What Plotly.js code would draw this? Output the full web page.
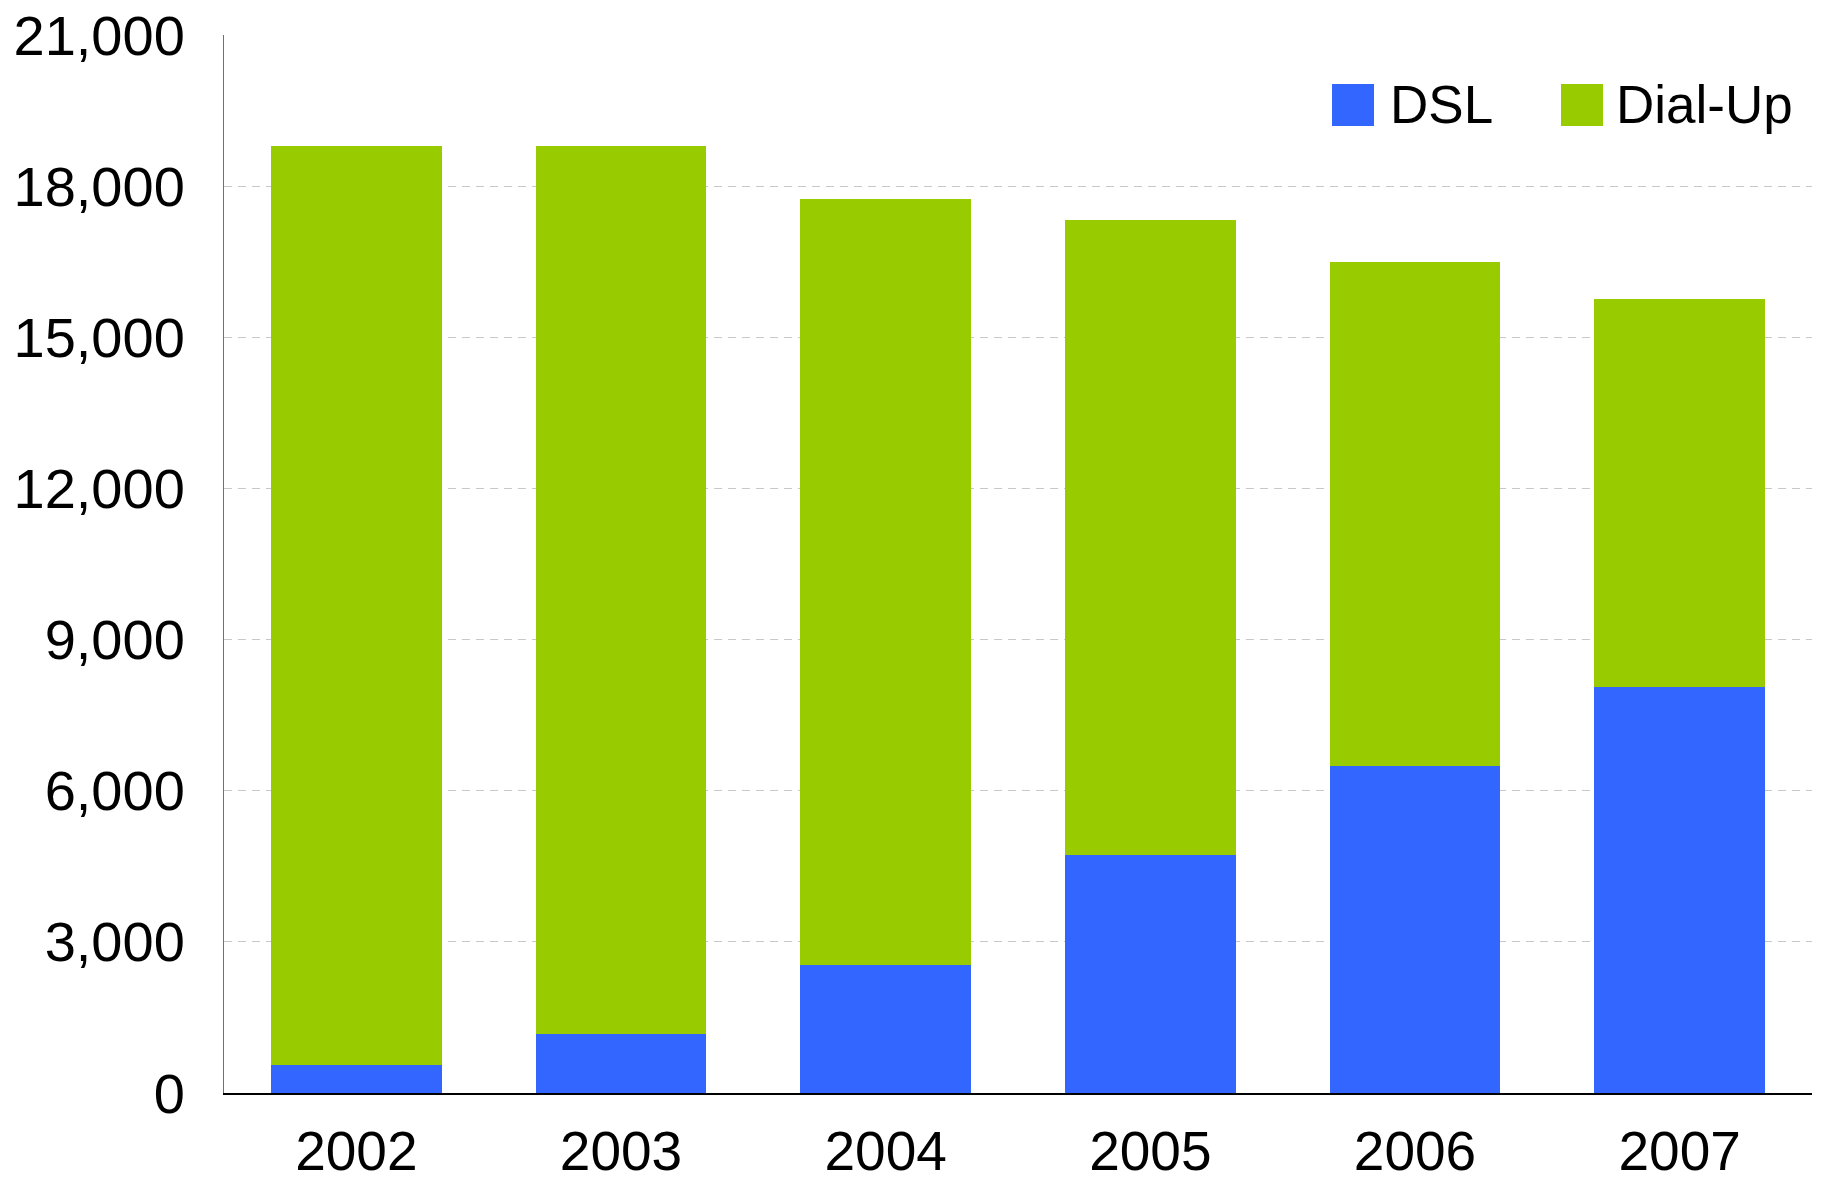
<!DOCTYPE html>
<html>
<head>
<meta charset="utf-8">
<script src="https://cdn.plot.ly/plotly-3.0.1.min.js"></script>
<style>html,body{margin:0;padding:0;background:#fff;}#chart{width:1823px;height:1185px;}</style>
</head>
<body>
<div id="chart"></div>
<script>
const years = ['2002', '2003', '2004', '2005', '2006', '2007'];
const seriesNames = ['DSL', 'Dial-Up'];
const dslValues = [560, 1180, 2550, 4725, 6500, 8060];
const totalValues = [18790, 18790, 17735, 17325, 16490, 15760];
const dialUpValues = totalValues.map((t, i) => t - dslValues[i]);
const yTickValues = [0, 3000, 6000, 9000, 12000, 15000, 18000, 21000];
const colors = ['#3366FF', '#99CC00'];

const FONT = 'Liberation Sans, Arial, sans-serif';

const traces = [
  {type: 'bar', name: seriesNames[0], x: years, y: dslValues,
   marker: {color: colors[0], line: {width: 0}}, showlegend: false, hoverinfo: 'x+y+name'},
  {type: 'bar', name: seriesNames[1], x: years, y: dialUpValues,
   marker: {color: colors[1], line: {width: 0}}, showlegend: false, hoverinfo: 'x+y+name'}
];

const layout = {
  width: 1823, height: 1185,
  margin: {l: 224, r: 11, t: 35, b: 92, pad: 0},
  paper_bgcolor: '#ffffff', plot_bgcolor: '#ffffff',
  barmode: 'stack', bargap: 0.354,
  font: {family: FONT, size: 56, color: '#000'},
  xaxis: {
    type: 'category', showgrid: false, zeroline: false,
    showline: true, linecolor: '#000', linewidth: 2,
    ticks: '', ticklabelstandoff: 9,
    tickfont: {family: FONT, size: 55, color: '#000'}
  },
  yaxis: {
    range: [0, 21000], tickvals: yTickValues, tickformat: ',d',
    showgrid: true, gridcolor: '#c8c8c8', gridwidth: 1, griddash: '8px,6px',
    zeroline: false, showline: true, linecolor: '#707070', linewidth: 1,
    ticks: '', ticklabelstandoff: 27,
    tickfont: {family: FONT, size: 56, color: '#000'}
  },
  shapes: [
    {type: 'rect', xref: 'paper', yref: 'paper',
     x0: (1332 - 224) / 1588, x1: (1374 - 224) / 1588,
     y0: (1093 - 126) / 1058, y1: (1093 - 84) / 1058,
     fillcolor: colors[0], line: {width: 0}},
    {type: 'rect', xref: 'paper', yref: 'paper',
     x0: (1561 - 224) / 1588, x1: (1603 - 224) / 1588,
     y0: (1093 - 126) / 1058, y1: (1093 - 84) / 1058,
     fillcolor: colors[1], line: {width: 0}}
  ],
  annotations: [
    {xref: 'paper', yref: 'paper', x: (1388 - 224) / 1588, y: (1093 - 105) / 1058,
     xanchor: 'left', yanchor: 'middle', showarrow: false, text: seriesNames[0],
     font: {family: FONT, size: 53, color: '#000'}},
    {xref: 'paper', yref: 'paper', x: (1614 - 224) / 1588, y: (1093 - 105) / 1058,
     xanchor: 'left', yanchor: 'middle', showarrow: false, text: seriesNames[1],
     font: {family: FONT, size: 53, color: '#000'}}
  ]
};

Plotly.newPlot('chart', traces, layout, {displayModeBar: false, staticPlot: true});
</script>
</body>
</html>
